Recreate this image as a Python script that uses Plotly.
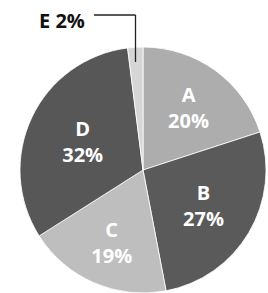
import plotly.graph_objects as go

labels = ["A", "B", "C", "D", "E"]
values = [20, 27, 19, 32, 2]
colors = ["#adadad", "#5a5a5a", "#bebebe", "#575757", "#d6d6d6"]
inside_text = [f"{l}<br>{v}%" if v > 5 else "" for l, v in zip(labels, values)]

W, H = 268, 293
cx, cy, r = 143, 170, 123

fig = go.Figure(go.Pie(
    labels=labels,
    values=values,
    sort=False,
    direction="clockwise",
    rotation=0,
    text=inside_text,
    textinfo="text",
    textposition="inside",
    insidetextorientation="horizontal",
    textfont=dict(family="Open Sans", size=20, color="white", weight="bold"),
    marker=dict(colors=colors, line=dict(width=0.8, color="white")),
    domain=dict(x=[(cx - r) / W, (cx + r) / W], y=[1 - (cy + r) / H, 1 - (cy - r) / H]),
    showlegend=False,
    hoverinfo="skip",
))

fig.add_annotation(
    x=62 / W, y=1 - 21 / H, xref="paper", yref="paper",
    xanchor="center", yanchor="middle",
    text=f"{labels[4]} {values[4]}%", showarrow=False,
    font=dict(family="Open Sans", size=20, color="#111111", weight="bold"),
)
fig.add_shape(type="line", xref="paper", yref="paper",
              x0=94 / W, y0=1 - 15 / H, x1=135.5 / W, y1=1 - 15 / H,
              line=dict(color="#222222", width=1.3))
fig.add_shape(type="line", xref="paper", yref="paper",
              x0=135.5 / W, y0=1 - 15 / H, x1=135.5 / W, y1=1 - 62 / H,
              line=dict(color="#222222", width=1.3))

fig.update_layout(
    width=W, height=H,
    margin=dict(l=0, r=0, t=0, b=0),
    paper_bgcolor="white",
    plot_bgcolor="white",
)

fig.write_html("out.html", config={"displayModeBar": False},
               post_script="document.body.style.margin='0';")
